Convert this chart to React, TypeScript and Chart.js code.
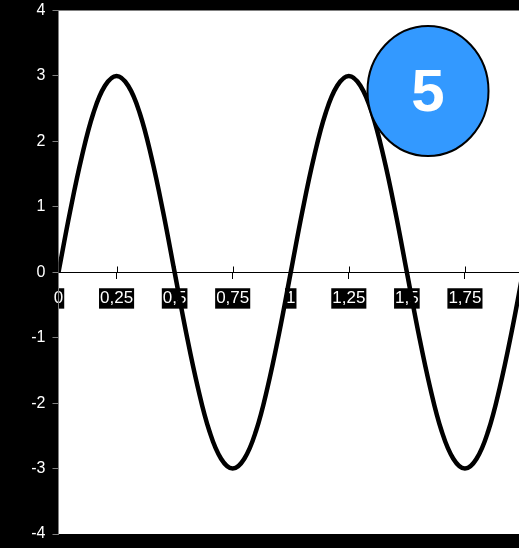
import React, { useEffect, useRef } from "react";
import { Chart, registerables } from "chart.js";

Chart.register(...registerables);

// Readings of the curve (x, y)
const xValues = [
  0, 0.05, 0.1, 0.15, 0.2, 0.25, 0.3, 0.35, 0.4, 0.45, 0.5,
  0.55, 0.6, 0.65, 0.7, 0.75, 0.8, 0.85, 0.9, 0.95, 1,
  1.05, 1.1, 1.15, 1.2, 1.25, 1.3, 1.35, 1.4, 1.45, 1.5,
  1.55, 1.6, 1.65, 1.7, 1.75, 1.8, 1.85, 1.9, 1.95, 2,
];
const yValues = [
  0, 0.93, 1.76, 2.43, 2.85, 3, 2.85, 2.43, 1.76, 0.93, 0,
  -0.93, -1.76, -2.43, -2.85, -3, -2.85, -2.43, -1.76, -0.93, 0,
  0.93, 1.76, 2.43, 2.85, 3, 2.85, 2.43, 1.76, 0.93, 0,
  -0.93, -1.76, -2.43, -2.85, -3, -2.85, -2.43, -1.76, -0.93, 0,
];
const xTickValues = [0, 0.25, 0.5, 0.75, 1, 1.25, 1.5, 1.75];
const xTickLabels = ["0", "0,25", "0,5", "0,75", "1", "1,25", "1,5", "1,75"];
const yTickValues = [-4, -3, -2, -1, 0, 1, 2, 3, 4];
const badgeText = "5";

const FONT = "'Liberation Sans', Arial, sans-serif";

const decorPlugin = {
  id: "decor",
  beforeDraw(chart: any) {
    const { ctx, chartArea: a, width, height } = chart;
    ctx.save();
    ctx.fillStyle = "#000";
    ctx.fillRect(0, 0, width, height);
    ctx.fillStyle = "#fff";
    ctx.fillRect(a.left, a.top, a.right - a.left, a.bottom - a.top);
    ctx.restore();
  },
  beforeDatasetsDraw(chart: any) {
    const { ctx } = chart;
    const xs = chart.scales.x;
    const ys = chart.scales.y;
    const y0 = Math.round(ys.getPixelForValue(0)) + 0.5;
    ctx.save();
    ctx.strokeStyle = "#000";
    ctx.lineWidth = 1;
    ctx.beginPath();
    xTickValues.forEach((v) => {
      const px = Math.round(xs.getPixelForValue(v)) + 0.5;
      ctx.moveTo(px, y0 - 6);
      ctx.lineTo(px, y0);
    });
    ctx.stroke();
    ctx.restore();
  },
  afterDraw(chart: any) {
    const { ctx } = chart;
    ctx.save();
    ctx.beginPath();
    ctx.ellipse(428, 91, 60.5, 65, 0, 0, Math.PI * 2);
    ctx.fillStyle = "rgb(51,153,255)";
    ctx.fill();
    ctx.lineWidth = 2;
    ctx.strokeStyle = "#000";
    ctx.stroke();
    ctx.fillStyle = "#fff";
    ctx.font = `bold 60px ${FONT}`;
    ctx.textAlign = "center";
    ctx.textBaseline = "middle";
    ctx.fillText(badgeText, 428, 94);
    ctx.restore();
  },
};

export default function App() {
  const ref = useRef<HTMLCanvasElement>(null);

  useEffect(() => {
    if (!ref.current) return;
    const chart = new Chart(ref.current, {
      type: "line",
      data: {
        datasets: [
          {
            data: xValues.map((x, i) => ({ x, y: yValues[i] })),
            borderColor: "#000",
            borderWidth: 4.5,
            pointRadius: 0,
            tension: 0.4,
            fill: false,
          },
        ],
      },
      options: {
        animation: false,
        responsive: false,
        devicePixelRatio: 1,
        layout: { padding: { left: 0, right: 1, top: 10.5, bottom: 14 } },
        plugins: {
          legend: { display: false },
          tooltip: { enabled: false },
        },
        scales: {
          x: {
            type: "linear",
            position: { y: 0 } as any,
            min: 0,
            max: 2,
            afterBuildTicks: (s: any) => {
              s.ticks = xTickValues.map((v) => ({ value: v }));
            },
            afterFit: (s: any) => {
              s.height = 0;
              s.paddingLeft = 0;
              s.paddingRight = 0;
              s.paddingTop = 0;
              s.paddingBottom = 0;
            },
            border: { color: "#000", width: 1 },
            grid: {
              drawOnChartArea: false,
              color: "#000",
              tickLength: 6,
            },
            ticks: {
              color: "#fff",
              font: { family: FONT, size: 17 },
              padding: 10,
              autoSkip: false,
              maxRotation: 0,
              showLabelBackdrop: true,
              backdropColor: "#000",
              backdropPadding: { x: 1, y: 0 },
              callback: (_v: any, i: number) => xTickLabels[i],
            },
          },
          y: {
            type: "linear",
            min: -4,
            max: 4,
            afterBuildTicks: (s: any) => {
              s.ticks = yTickValues.map((v) => ({ value: v }));
            },
            afterFit: (s: any) => {
              s.width = 58.5;
              s.paddingTop = 0;
              s.paddingBottom = 0;
              s.paddingLeft = 0;
              s.paddingRight = 0;
            },
            border: { color: "#808080", width: 1 },
            grid: {
              drawOnChartArea: false,
              color: "#808080",
              tickLength: 6,
            },
            ticks: {
              color: "#fff",
              font: { family: FONT, size: 16 },
              padding: 7,
              callback: (v: any) => String(v),
            },
          },
        },
      },
      plugins: [decorPlugin],
    });
    return () => chart.destroy();
  }, []);

  return (
    <div
      style={{
        position: "fixed",
        left: 0,
        top: 0,
        width: 519,
        height: 548,
        overflow: "hidden",
        background: "#000",
      }}
    >
      <canvas ref={ref} width={524} height={548} style={{ width: 524, height: 548, display: "block" }} />
    </div>
  );
}
